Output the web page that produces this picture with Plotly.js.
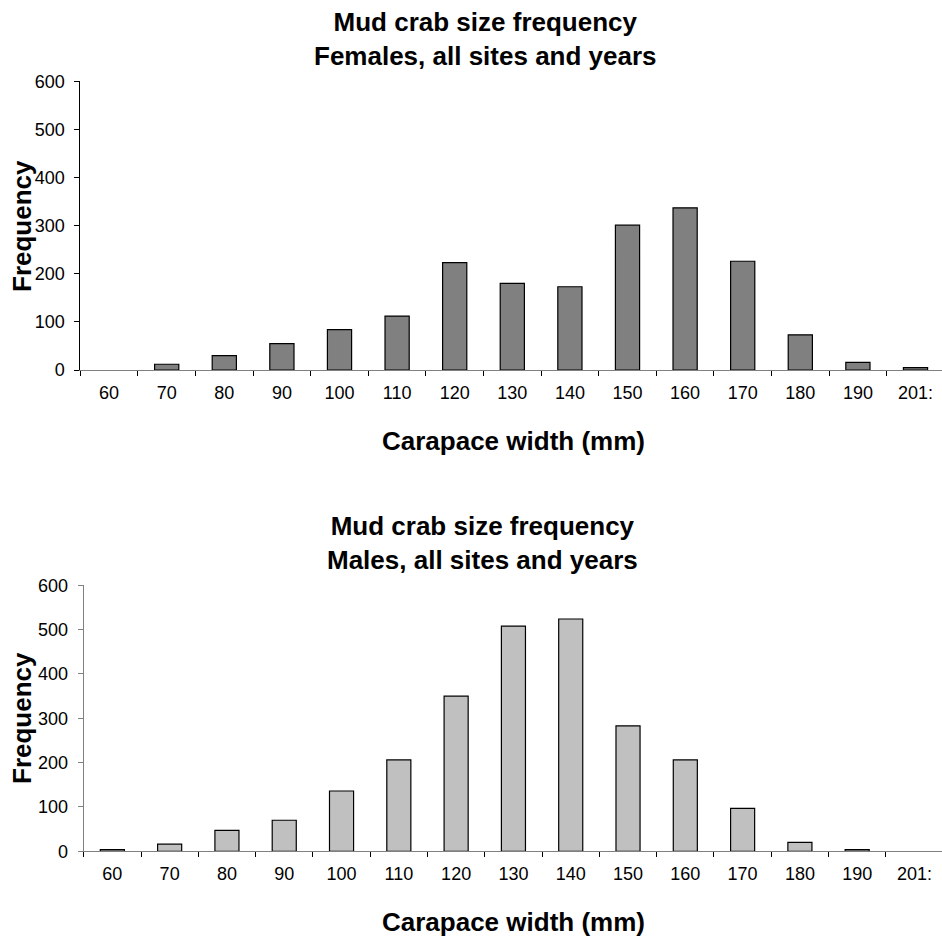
<!DOCTYPE html>
<html>
<head>
<meta charset="utf-8">
<script src="https://cdn.plot.ly/plotly-3.0.1.min.js"></script>
<style>
html,body{margin:0;padding:0;background:#fff;overflow:hidden;}
#chart{width:942px;height:937px;}
</style>
</head>
<body>
<div id="chart"></div>
<script>
// Category labels (carapace width class, mm)
const categories = ["60","70","80","90","100","110","120","130","140","150","160","170","180","190","201:"];
// Frequencies
const females = [0, 12, 30, 55, 84, 112, 223, 180, 173, 301, 337, 226, 73, 16, 5];
const males   = [4, 16, 47, 70, 136, 206, 350, 508, 524, 283, 206, 97, 20, 4, 0];
const yTicks = [0, 100, 200, 300, 400, 500, 600];

const W = 942, H = 937;
const FONT = "Liberation Sans, Arial, sans-serif";
const px = v => v / W;
const py = v => 1 - v / H;
// empty classes get no outline (as in the original spreadsheet chart)
const outline = vals => vals.map(v => (v > 0 ? 1.2 : 0));

const traces = [
  {
    type: 'bar', x: categories, y: females, xaxis: 'x', yaxis: 'y',
    marker: {color: '#808080', line: {color: '#000', width: outline(females)}},
    hoverinfo: 'x+y', showlegend: false
  },
  {
    type: 'bar', x: categories, y: males, xaxis: 'x2', yaxis: 'y2',
    marker: {color: '#C0C0C0', line: {color: '#000', width: outline(males)}},
    hoverinfo: 'x+y', showlegend: false
  }
];

function xAxis(domain, range, anchor) {
  return {
    type: 'category', domain: domain, range: range, anchor: anchor,
    showline: true, linecolor: '#808080', linewidth: 1,
    ticks: 'outside', ticklen: 5, tickcolor: '#000', tickwidth: 1,
    tickson: 'boundaries', showgrid: false, zeroline: false,
    tickfont: {family: FONT, size: 18, color: '#000'},
    ticklabelstandoff: 6, fixedrange: true
  };
}
function yAxis(domain, anchor, lineColor) {
  return {
    domain: domain, range: [0, 600], anchor: anchor,
    tickmode: 'array', tickvals: yTicks, ticktext: yTicks.map(String),
    showline: true, linecolor: lineColor, linewidth: 1,
    ticks: 'outside', ticklen: 5, tickcolor: lineColor, tickwidth: 1,
    showgrid: false, zeroline: false,
    tickfont: {family: FONT, size: 18, color: '#000'},
    ticklabelstandoff: 6, fixedrange: true
  };
}

function ann(text, x, y, opts) {
  return Object.assign({
    text: text, xref: 'paper', yref: 'paper', x: px(x), y: py(y),
    xanchor: 'center', yanchor: 'middle', showarrow: false,
    font: {family: FONT, size: 26, color: '#000'}
  }, opts || {});
}

const layout = {
  width: W, height: H,
  margin: {l: 0, r: 0, t: 0, b: 0, pad: 0},
  paper_bgcolor: '#fff', plot_bgcolor: '#fff',
  bargap: 0.58,
  showlegend: false,
  xaxis: xAxis([px(80.3), 1], [-0.5, 14.46], 'y'),
  yaxis: yAxis([py(370), py(81.3)], 'x', '#000'),
  xaxis2: xAxis([px(83.7), 1], [-0.5, 14.48], 'y2'),
  yaxis2: yAxis([py(851.3), py(585.3)], 'x2', '#808080'),
  annotations: [
    ann('<b>Mud crab size frequency<br>Females, all sites and years</b>', 485.5, 39),
    ann('<b>Mud crab size frequency<br>Males, all sites and years</b>', 482, 543),
    ann('<b>Carapace width (mm)</b>', 513, 441),
    ann('<b>Carapace width (mm)</b>', 513, 922),
    ann('<b>Frequency</b>', 22, 226, {textangle: -90}),
    ann('<b>Frequency</b>', 22, 718, {textangle: -90})
  ]
};

Plotly.newPlot('chart', traces, layout, {displayModeBar: false, staticPlot: true});
</script>
</body>
</html>
